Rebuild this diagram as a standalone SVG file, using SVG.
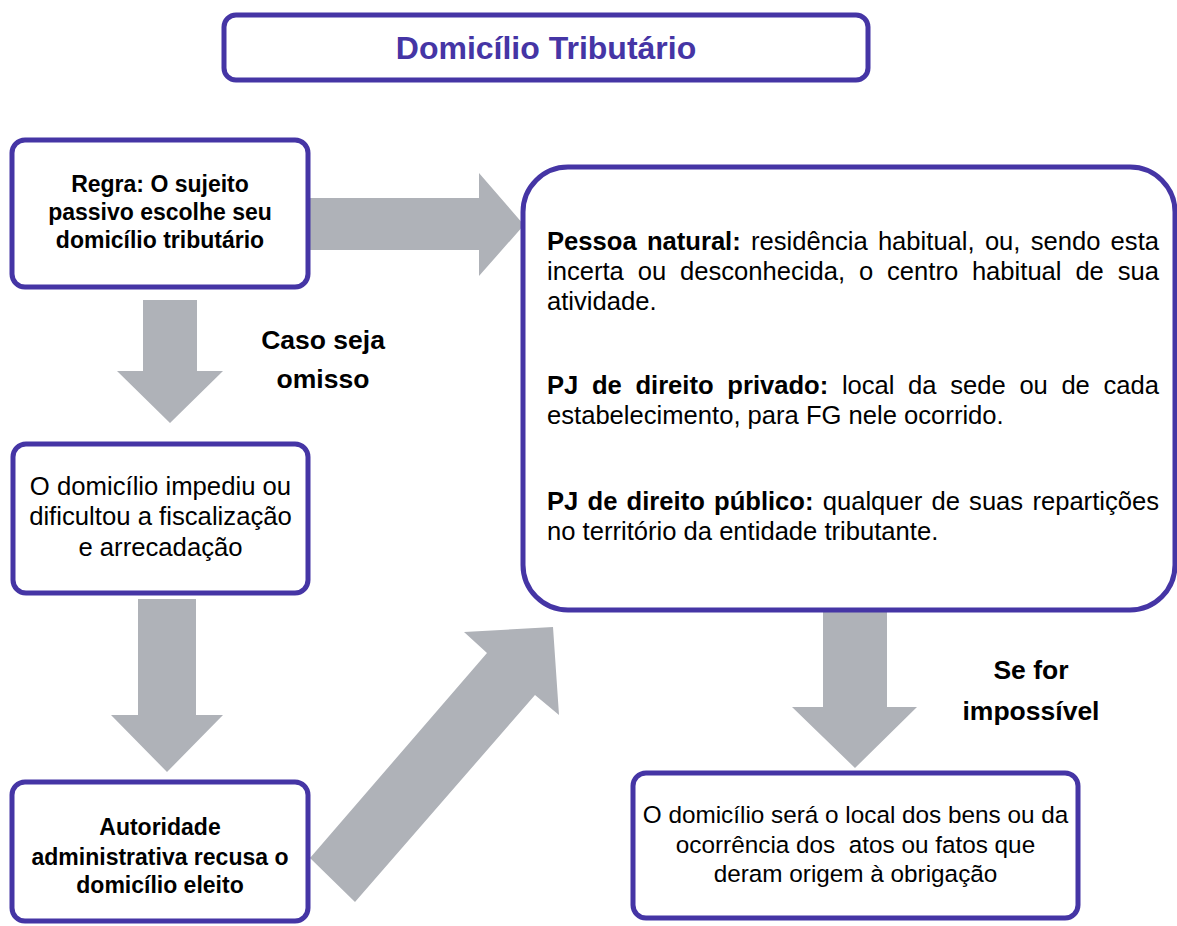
<svg xmlns="http://www.w3.org/2000/svg" width="1177" height="926" viewBox="0 0 1177 926">
<style>
.box{fill:#fff;stroke:#4535A5;stroke-width:5}
.arr{fill:#AFB2B8}
text{font-family:"Liberation Sans",Arial,sans-serif;fill:#000}
.b{font-weight:bold}
.c{text-anchor:middle}
.t1{font-size:23px;font-weight:bold}
.t2{font-size:25.7px}
.t4{font-size:24.3px}
.lbl{font-size:26.5px;font-weight:bold}
.rt{font-size:25.6px}
</style>
<rect width="1177" height="926" fill="#fff"/>
<g id="connectors">
<polygon class="arr" points="310,198 479,198 479,173 524,225 479,276 479,250 310,250"/>
<polygon class="arr" points="143,300 197,300 197,371 223,371 170,423 117,371 143,371"/>
<polygon class="arr" points="138,599 196,599 196,715 223,715 167,772 111,715 138,715"/>
<polygon class="arr" points="823,612 887,612 887,707 917,707 855,768 792,707 823,707"/>
<polygon class="arr" points="310,858 487,653 464,632 553,627 559,715 535,695 355,902"/>
<text class="lbl c" x="323" y="349">Caso seja</text>
<text class="lbl c" x="323" y="388">omisso</text>
<text class="lbl c" x="1031" y="679">Se for</text>
<text class="lbl c" x="1031" y="720">impossível</text>
</g>
<g id="title">
<rect class="box" x="224" y="15" width="644" height="65" rx="12"/>
<text class="b c" x="546" y="59" style="font-size:32px;fill:#4535A5">Domicílio Tributário</text>
</g>
<g id="regra">
<rect class="box" x="12" y="140" width="296" height="147" rx="13"/>
<text class="t1 c" x="160" y="192">Regra: O sujeito</text>
<text class="t1 c" x="160" y="220">passivo escolhe seu</text>
<text class="t1 c" x="160" y="248">domicílio tributário</text>
</g>
<g id="impediu">
<rect class="box" x="13" y="444" width="295" height="149" rx="13"/>
<text class="t2 c" x="160.5" y="495">O domicílio impediu ou</text>
<text class="t2 c" x="160.5" y="525">dificultou a fiscalização</text>
<text class="t2 c" x="160.5" y="556">e arrecadação</text>
</g>
<g id="autoridade">
<rect class="box" x="12" y="782" width="296" height="139" rx="13"/>
<text class="t1 c" x="160" y="835">Autoridade</text>
<text class="t1 c" x="160" y="865">administrativa recusa o</text>
<text class="t1 c" x="160" y="893">domicílio eleito</text>
</g>
<g id="domicilios">
<rect class="box" x="523" y="167" width="652" height="443" rx="45"/>
<text class="rt" y="250"><tspan class="b" x="547">Pessoa</tspan><tspan class="b" x="646.9">natural:</tspan><tspan x="751">residência</tspan><tspan x="877.9">habitual,</tspan><tspan x="984.9">ou,</tspan><tspan x="1030.7">sendo</tspan><tspan x="1159" text-anchor="end">esta</tspan></text>
<text class="rt" y="280"><tspan x="547">incerta</tspan><tspan x="637.7">ou</tspan><tspan x="680">desconhecida,</tspan><tspan x="858.9">o</tspan><tspan x="887">centro</tspan><tspan x="971.9">habitual</tspan><tspan x="1075.4">de</tspan><tspan x="1159" text-anchor="end">sua</tspan></text>
<text class="rt" x="547" y="310">atividade.</text>
<text class="rt" y="394"><tspan class="b" x="547">PJ</tspan><tspan class="b" x="591.9">de</tspan><tspan class="b" x="635.4">direito</tspan><tspan class="b" x="727.3">privado:</tspan><tspan x="841.9">local</tspan><tspan x="908.1">da</tspan><tspan x="950.2">sede</tspan><tspan x="1019.4">ou</tspan><tspan x="1061.4">de</tspan><tspan x="1159" text-anchor="end">cada</tspan></text>
<text class="rt" x="547" y="424">estabelecimento, para FG nele ocorrido.</text>
<text class="rt" y="510"><tspan class="b" x="547">PJ</tspan><tspan class="b" x="587.5">de</tspan><tspan class="b" x="626.6">direito</tspan><tspan class="b" x="714">público:</tspan><tspan x="822.7">qualquer</tspan><tspan x="931.5">de</tspan><tspan x="969.1">suas</tspan><tspan x="1159" text-anchor="end">repartições</tspan></text>
<text class="rt" x="547" y="540">no território da entidade tributante.</text>
</g>
<g id="local">
<rect class="box" x="633" y="773" width="445" height="145" rx="13"/>
<text class="t4 c" x="855.5" y="823">O domicílio será o local dos bens ou da</text>
<text class="t4 c" x="855.5" y="853" xml:space="preserve">ocorrência dos  atos ou fatos que</text>
<text class="t4 c" x="855.5" y="882">deram origem à obrigação</text>
</g>
</svg>
